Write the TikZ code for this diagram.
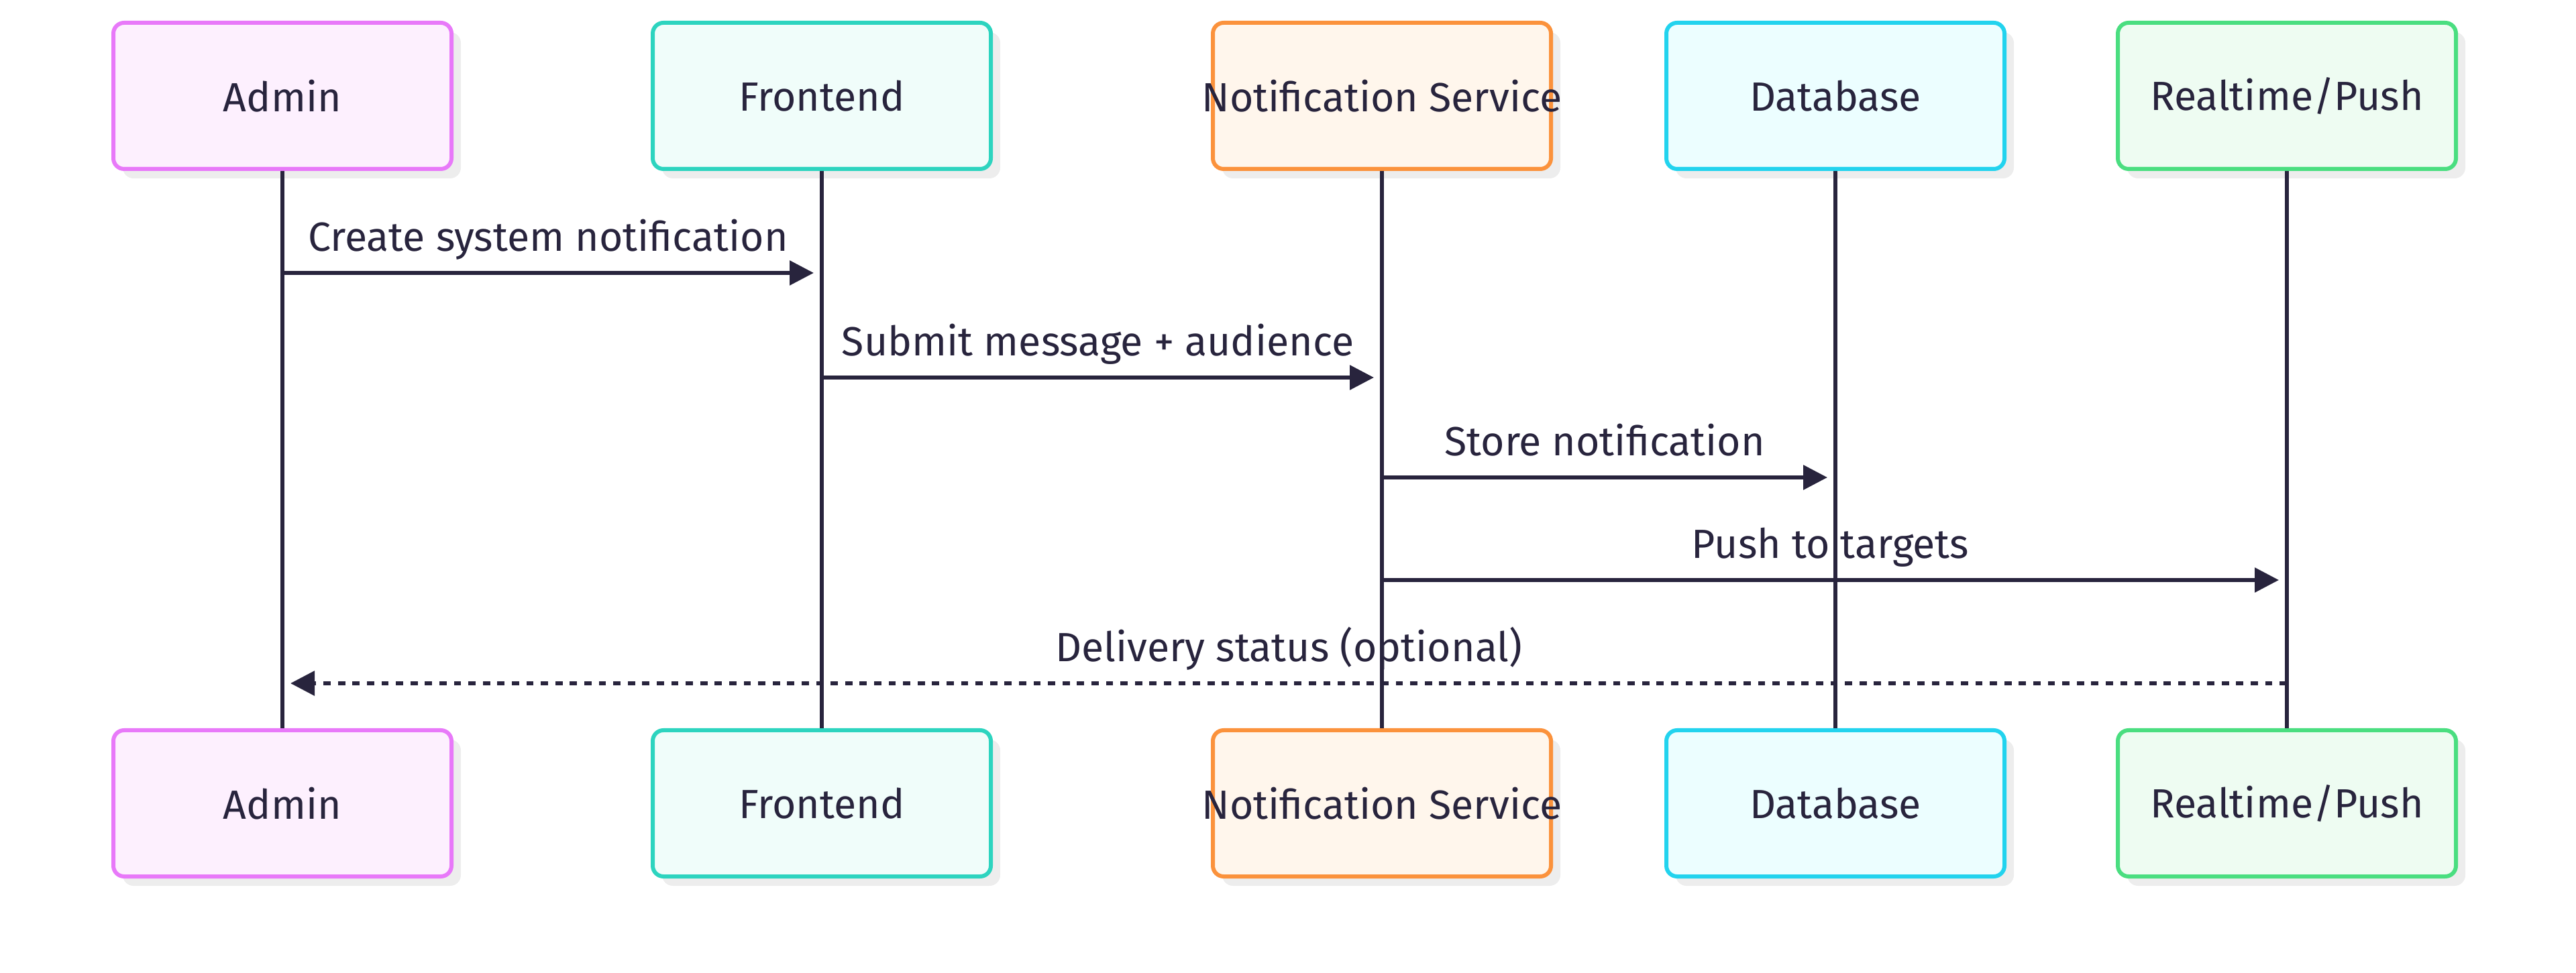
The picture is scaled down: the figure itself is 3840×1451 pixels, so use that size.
\documentclass[tikz,border=0pt]{standalone}
\usepackage{fontspec}
\setmainfont{Fira Sans}
\usetikzlibrary{arrows.meta,shadows,calc}
\definecolor{ink}{HTML}{28243D}
\definecolor{shad}{HTML}{EDEDED}
\definecolor{adminS}{HTML}{E879F9}\definecolor{adminF}{HTML}{FDF0FE}
\definecolor{frontS}{HTML}{2DD4BF}\definecolor{frontF}{HTML}{F0FDFA}
\definecolor{notifS}{HTML}{FB923C}\definecolor{notifF}{HTML}{FFF6EC}
\definecolor{dbS}{HTML}{22D3EE}\definecolor{dbF}{HTML}{ECFEFF}
\definecolor{rtS}{HTML}{4ADE80}\definecolor{rtF}{HTML}{EEFCF2}
\tikzset{
  actor/.style={rectangle, rounded corners=4pt, line width=1.5pt, minimum width=126pt, minimum height=54.5pt, inner sep=0pt, text=ink, font=\fontsize{15.2}{18}\selectfont,
    drop shadow={shadow xshift=3.5pt, shadow yshift=-3.5pt, fill=shad, opacity=1}},
  lifeline/.style={draw=ink, line width=1.5pt},
  msg/.style={draw=ink, line width=1.5pt, -{Triangle[length=9pt,width=9pt]}},
  reply/.style={msg, dash pattern=on 2.7pt off 2.7pt},
  msglabel/.style={text=ink, font=\fontsize{15.2}{18}\selectfont, anchor=base, yshift=8pt, inner sep=0pt}
}
\begin{document}
\begin{tikzpicture}[x=0.25pt,y=-0.25pt]
\useasboundingbox (0,0) rectangle (3840,1451);
% top actors
\node[actor, draw=adminS, fill=adminF] (admT) at (421,143) {Admin};
\node[actor, draw=frontS, fill=frontF] (frT) at (1225,143) {Frontend};
\node[actor, draw=notifS, fill=notifF] (nsT) at (2060,143) {\makebox[0pt]{Notification Service}};
\node[actor, draw=dbS, fill=dbF] (dbT) at (2736,143) {Database};
\node[actor, draw=rtS, fill=rtF] (rtT) at (3409,143) {Realtime/Push};
% bottom actors
\node[actor, draw=adminS, fill=adminF] (admB) at (421,1198) {Admin};
\node[actor, draw=frontS, fill=frontF] (frB) at (1225,1198) {Frontend};
\node[actor, draw=notifS, fill=notifF] (nsB) at (2060,1198) {\makebox[0pt]{Notification Service}};
\node[actor, draw=dbS, fill=dbF] (dbB) at (2736,1198) {Database};
\node[actor, draw=rtS, fill=rtF] (rtB) at (3409,1198) {Realtime/Push};
% lifelines
\draw[lifeline] (admT.south) -- (admB.north);
\draw[lifeline] (frT.south) -- (frB.north);
\draw[lifeline] (nsT.south) -- (nsB.north);
\draw[lifeline] (dbT.south) -- (dbB.north);
\draw[lifeline] (rtT.south) -- (rtB.north);
% message endpoints
\coordinate (m1s) at (421,407);  \coordinate (m1e) at (1213,407);
\coordinate (m2s) at (1225,563); \coordinate (m2e) at (2048,563);
\coordinate (m3s) at (2060,712); \coordinate (m3e) at (2724,712);
\coordinate (m4s) at (2060,865); \coordinate (m4e) at (3397,865);
\coordinate (m5s) at (3409,1019); \coordinate (m5e) at (433,1019);
% messages
\draw[msg] (m1s) -- node[msglabel] {Create system notification} (m1e);
\draw[msg] (m2s) -- node[msglabel] {Submit message + audience} (m2e);
\draw[msg] (m3s) -- node[msglabel] {Store notification} (m3e);
\draw[msg] (m4s) -- node[msglabel] {Push to targets} (m4e);
\draw[reply] (m5s) -- node[msglabel] {Delivery status (optional)} (m5e);
\end{tikzpicture}
\end{document}
